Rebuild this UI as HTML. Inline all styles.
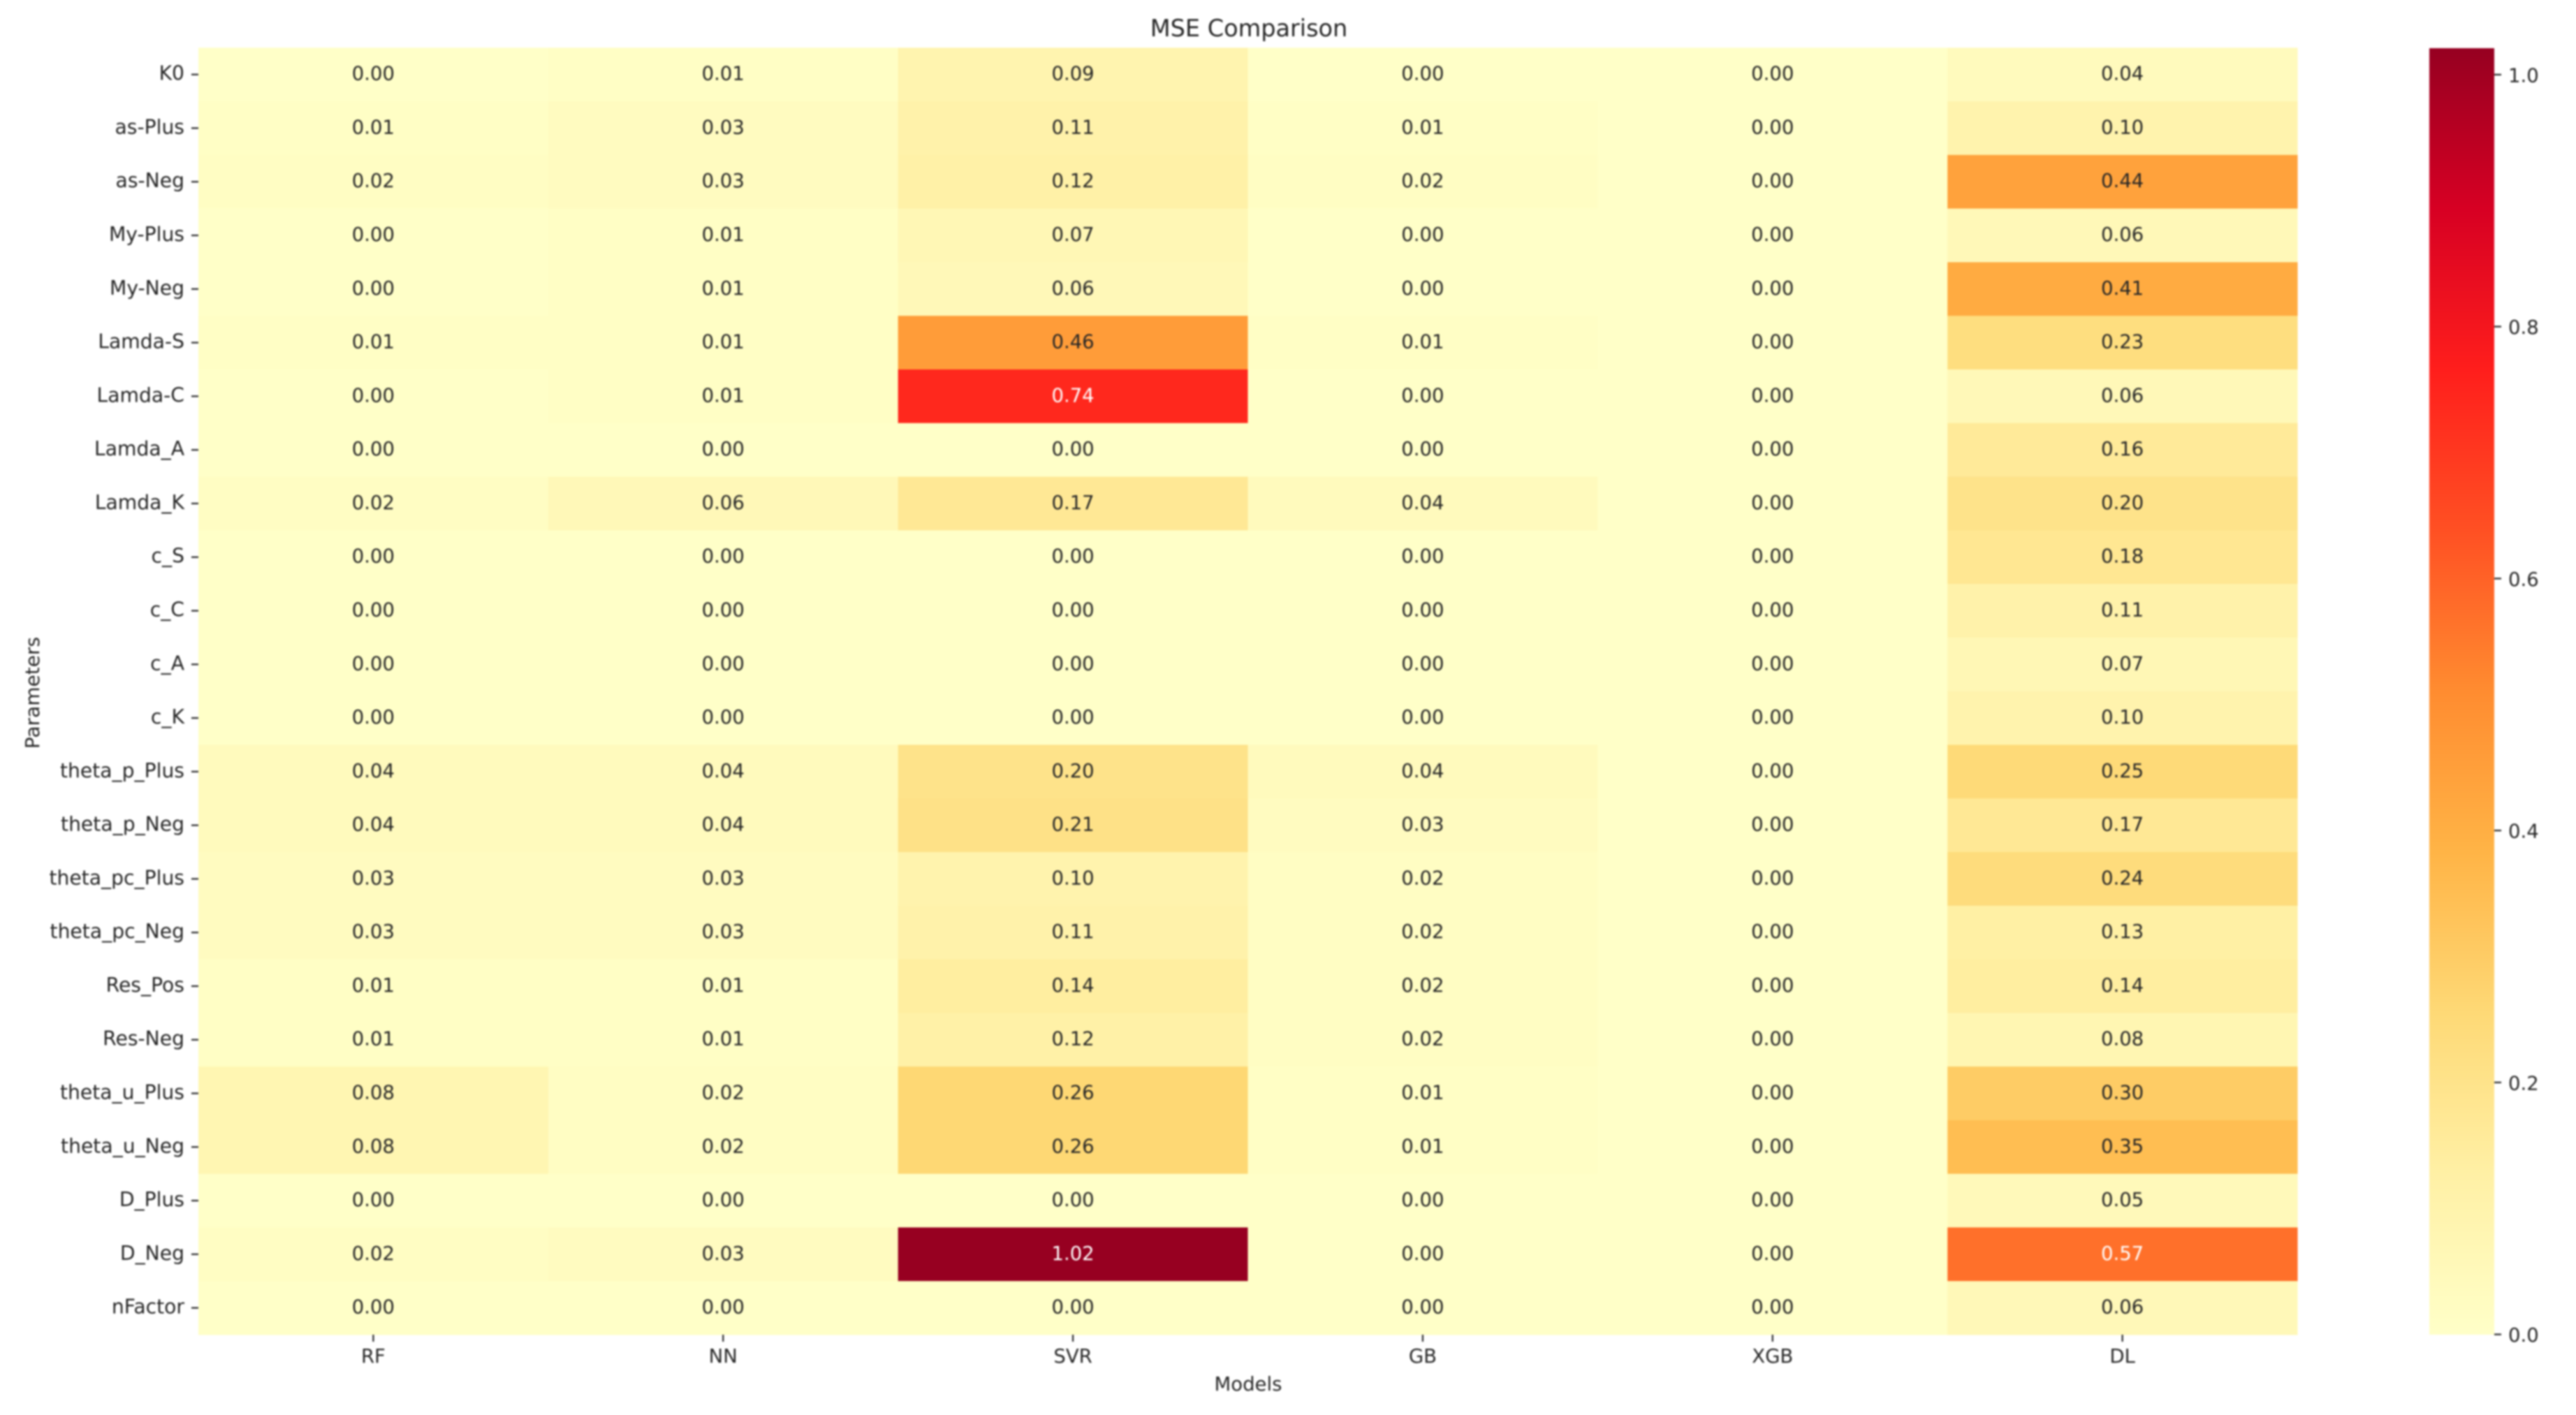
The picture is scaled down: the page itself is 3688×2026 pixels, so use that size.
<!DOCTYPE html>
<html lang="en">
<head>
<meta charset="utf-8">
<title>MSE Comparison</title>
<style>
  html, body { margin: 0; padding: 0; background: #fff; }
  body { width: 3688px; height: 2026px; overflow: hidden; }
  #chart { display: block; filter: blur(1.2px); }
  text { font-family: "DejaVu Sans", "Liberation Sans", sans-serif; fill: #262626; }
</style>
</head>
<body>
<svg id="chart" xmlns="http://www.w3.org/2000/svg" width="3688" height="2026" viewBox="0 0 3688 2026">
  <defs>
    <linearGradient id="cbar-gradient" x1="0" y1="1" x2="0" y2="0"></linearGradient>
  </defs>
  <rect x="0" y="0" width="3688" height="2026" fill="#ffffff"></rect>
  <g id="cells"></g>
  <g id="annotations"></g>
  <g id="y-axis"></g>
  <g id="x-axis"></g>
  <rect x="3478" y="69" width="93" height="1842" fill="url(#cbar-gradient)"></rect>
  <g id="cbar-axis"></g>
  <text x="1788" y="52" font-size="33.5" text-anchor="middle">MSE Comparison</text>
  <text x="1787" y="1991" font-size="27.5" text-anchor="middle">Models</text>
  <text transform="translate(56 992) rotate(-90)" font-size="28" text-anchor="middle">Parameters</text>
</svg>
<script>
const parameters = ["K0","as-Plus","as-Neg","My-Plus","My-Neg","Lamda-S","Lamda-C","Lamda_A","Lamda_K","c_S","c_C","c_A","c_K","theta_p_Plus","theta_p_Neg","theta_pc_Plus","theta_pc_Neg","Res_Pos","Res-Neg","theta_u_Plus","theta_u_Neg","D_Plus","D_Neg","nFactor"];
const models = ["RF","NN","SVR","GB","XGB","DL"];
const rfValues  = [0.00,0.01,0.02,0.00,0.00,0.01,0.00,0.00,0.02,0.00,0.00,0.00,0.00,0.04,0.04,0.03,0.03,0.01,0.01,0.08,0.08,0.00,0.02,0.00];
const nnValues  = [0.01,0.03,0.03,0.01,0.01,0.01,0.01,0.00,0.06,0.00,0.00,0.00,0.00,0.04,0.04,0.03,0.03,0.01,0.01,0.02,0.02,0.00,0.03,0.00];
const svrValues = [0.09,0.11,0.12,0.07,0.06,0.46,0.74,0.00,0.17,0.00,0.00,0.00,0.00,0.20,0.21,0.10,0.11,0.14,0.12,0.26,0.26,0.00,1.02,0.00];
const gbValues  = [0.00,0.01,0.02,0.00,0.00,0.01,0.00,0.00,0.04,0.00,0.00,0.00,0.00,0.04,0.03,0.02,0.02,0.02,0.02,0.01,0.01,0.00,0.00,0.00];
const xgbValues = [0.00,0.00,0.00,0.00,0.00,0.00,0.00,0.00,0.00,0.00,0.00,0.00,0.00,0.00,0.00,0.00,0.00,0.00,0.00,0.00,0.00,0.00,0.00,0.00];
const dlValues  = [0.04,0.10,0.44,0.06,0.41,0.23,0.06,0.16,0.20,0.18,0.11,0.07,0.10,0.25,0.17,0.24,0.13,0.14,0.08,0.30,0.35,0.05,0.57,0.06];
const colorbarTicks = [0.0,0.2,0.4,0.6,0.8,1.0];

const plot = { left: 284, right: 3289, top: 68.3, bottom: 1911 };
const cbar = { left: 3478, right: 3571, top: 69, bottom: 1910.6 };
const vmax = 1.021;
const rampColors = [[255,255,200],[255,240,165],[254,217,118],[255,180,70],[255,140,48],[255,80,35],[255,30,28],[215,0,35],[150,0,33]];
const series = [rfValues, nnValues, svrValues, gbValues, xgbValues, dlValues];

const SVGNS = "http://www.w3.org/2000/svg";
const colW = (plot.right - plot.left) / models.length;
const rowH = (plot.bottom - plot.top) / parameters.length;
function xBand(i) { return plot.left + i * colW; }
function yBand(j) { return plot.top + j * rowH; }
function xCenter(i) { return xBand(i) + colW / 2; }
function yCenter(j) { return yBand(j) + rowH / 2; }
function cbarY(v) { return cbar.bottom - (v / vmax) * (cbar.bottom - cbar.top); }
function colorRgb(v) {
  const t = Math.max(0, Math.min(1, v / vmax)) * (rampColors.length - 1);
  const k = Math.min(rampColors.length - 2, Math.floor(t));
  const f = t - k;
  return rampColors[k].map(function (c, n) { return Math.round(c + (rampColors[k + 1][n] - c) * f); });
}
function luminance(rgb) {
  const l = rgb.map(function (c) {
    const s = c / 255;
    return s <= 0.03928 ? s / 12.92 : Math.pow((s + 0.055) / 1.055, 2.4);
  });
  return 0.2126 * l[0] + 0.7152 * l[1] + 0.0722 * l[2];
}
function make(tag, parentId, attrs, content) {
  const el = document.createElementNS(SVGNS, tag);
  Object.keys(attrs).forEach(function (key) { el.setAttribute(key, attrs[key]); });
  if (content !== undefined) el.textContent = content;
  document.getElementById(parentId).appendChild(el);
  return el;
}

rampColors.forEach(function (c, k) {
  const stop = make("stop", "cbar-gradient", {
    offset: k / (rampColors.length - 1),
    "stop-color": "rgb(" + c.join(",") + ")"
  });
  
  
});

series.forEach(function (values, i) {
  values.forEach(function (v, j) {
    const rgb = colorRgb(v);
    const cell = make("rect", "cells", {
      x: xBand(i), y: yBand(j), width: colW + 0.5, height: rowH + 0.5,
      fill: "rgb(" + rgb.join(",") + ")"
    });
    
    
    const label = make("text", "annotations", {
      x: xCenter(i), y: yCenter(j) + 8, "font-size": 27.5, "text-anchor": "middle"
    }, v.toFixed(2));
    label.style.fill = luminance(rgb) < 0.408 ? "#ffffff" : "#262626";
    
    
  });
});

parameters.forEach(function (name, j) {
  const tick = make("line", "y-axis", {
    x1: 274, x2: plot.left, y1: yCenter(j), y2: yCenter(j), stroke: "#262626", "stroke-width": 2.2
  });
  
  
  const label = make("text", "y-axis", {
    x: 264, y: yCenter(j) + 8, "font-size": 28.2, "text-anchor": "end"
  }, name);
  
  
});

models.forEach(function (name, i) {
  const tick = make("line", "x-axis", {
    x1: xCenter(i), x2: xCenter(i), y1: plot.bottom, y2: plot.bottom + 10, stroke: "#262626", "stroke-width": 2.2
  });
  
  
  const label = make("text", "x-axis", {
    x: xCenter(i), y: 1951, "font-size": 27.5, "text-anchor": "middle"
  }, name);
  
  
});

colorbarTicks.forEach(function (v) {
  const tick = make("line", "cbar-axis", {
    x1: cbar.right, x2: cbar.right + 10, y1: cbarY(v), y2: cbarY(v), stroke: "#262626", "stroke-width": 2.2
  });
  
  
  const label = make("text", "cbar-axis", {
    x: 3591, y: cbarY(v) + 10.5, "font-size": 27.5
  }, v.toFixed(1));
  
  
});
</script>
</body>
</html>
